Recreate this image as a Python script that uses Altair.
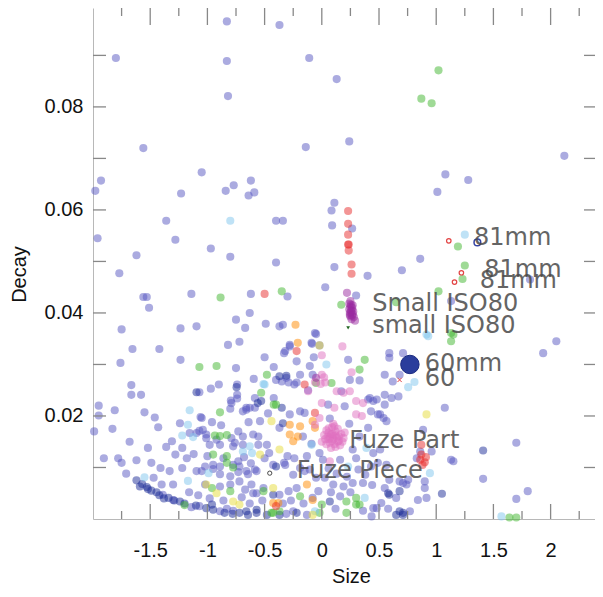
import altair as alt
import pandas as pd

# ---------------- data (Size, Decay) per colour group ----------------
lav_pts = [
    (-0.83, 0.0966), (-0.37, 0.0959), (-1.80, 0.0895), (-0.83, 0.0889), (-0.11, 0.0895), (0.13, 0.0854),
    (-0.82, 0.0821), (-1.56, 0.0720), (-0.14, 0.0722), (-1.05, 0.0673), (-1.93, 0.0657), (-1.98, 0.0637),
    (-1.23, 0.0632), (-0.77, 0.0648), (-0.84, 0.0637), (-0.62, 0.0657), (-0.64, 0.0628), (-0.59, 0.0634),
    (0.11, 0.0614), (0.085, 0.0599), (-1.36, 0.0579), (-0.40, 0.0579), (-0.34, 0.0579), (-1.96, 0.0545),
    (-1.28, 0.0542), (-0.97, 0.0525), (-1.62, 0.0512), (-1.77, 0.0477), (-1.56, 0.0431), (-1.53, 0.0431),
    (-1.51, 0.0410), (-1.14, 0.0437), (-0.62, 0.0437), (-0.30, 0.0432), (-0.80, 0.0509), (-0.40, 0.0498),
    (0.24, 0.0733), (2.12, 0.0705), (1.08, 0.0669), (1.28, 0.0658), (1.01, 0.0635), (0.09, 0.0570),
    (0.265, 0.0564), (0.11, 0.0489), (0.40, 0.0472), (0.70, 0.0483), (0.86, 0.0505), (0.03, 0.0450),
    (0.30, 0.0434), (1.82, 0.0465), (1.13, 0.0423),
    (-0.02, 0.0337), (-0.06, 0.0361), (-0.09, 0.0342), (-0.34, 0.0377), (-0.28, 0.0338), (-0.32, 0.0326),
    (0.23, 0.0309), (0.59, 0.0322), (0.71, 0.0322), (0.245, 0.0270), (0.33, 0.0269), (0.55, 0.0280),
    (0.62, 0.0267), (-0.24, 0.0261), (-0.31, 0.0274), (-0.35, 0.0267), (-0.19, 0.0280), (-0.08, 0.0280),
    (0.17, 0.0248), (-0.63, 0.0400), (-0.75, 0.0387), (-0.49, 0.0379), (-0.37, 0.0374), (-0.67, 0.0371),
    (-1.235, 0.0370), (-1.095, 0.0374), (-0.05, 0.0359), (-0.82, 0.0338), (-0.72, 0.0344), (-1.42, 0.0330),
    (-0.28, 0.0335), (-0.085, 0.0340), (-0.33, 0.0322), (-1.235, 0.0309), (-0.50, 0.0314), (-0.22, 0.0306),
    (-0.07, 0.0314), (-0.75, 0.0293), (-0.42, 0.0295), (-0.105, 0.0297), (-0.595, 0.0272), (-0.74, 0.0261),
    (-0.90, 0.0261), (-0.29, 0.0265), (-0.22, 0.0265),
    (-1.75, 0.0368), (-1.655, 0.0330), (-1.76, 0.0303), (-1.665, 0.0260), (-1.665, 0.0241), (-1.58, 0.0241),
    (-1.07, 0.0246), (-0.97, 0.0253), (-0.74, 0.0241), (-0.42, 0.0235), (-1.95, 0.0220), (-1.81, 0.0211),
    (-1.95, 0.0201), (-1.55, 0.0207), (-1.46, 0.0197), (-1.99, 0.0170), (-1.83, 0.0175), (-1.43, 0.0178),
    (-1.24, 0.0186), (-1.06, 0.0198), (-0.80, 0.0214), (-0.795, 0.0230), (-0.74, 0.0234), (-0.66, 0.0216),
    (-0.585, 0.0235), (-0.585, 0.0216), (-1.155, 0.0167), (-1.31, 0.0151), (-1.22, 0.0138), (-1.095, 0.0167),
    (-1.07, 0.0171), (-1.01, 0.0164), (-0.98, 0.0144), (-0.89, 0.0144), (-0.775, 0.0141), (-0.48, 0.0144),
    (-0.73, 0.0112), (-1.78, 0.0118), (-1.75, 0.0109), (-1.71, 0.0088), (-1.62, 0.0114), (-1.49, 0.0109),
    (-1.41, 0.0099), (-1.33, 0.0093), (-1.905, 0.0118), (-1.22, 0.0099), (-1.095, 0.0093), (-1.05, 0.0093),
    (-0.95, 0.0097), (-0.89, 0.0087), (-0.80, 0.0083), (-0.73, 0.0091), (-0.645, 0.0087), (-0.57, 0.0093),
    (-1.39, 0.0047), (-1.30, 0.0037), (-1.14, 0.0023), (-1.07, 0.0025), (-0.89, 0.0015), (-0.83, 0.0020),
    (-0.775, 0.0016), (-0.31, 0.0010), (-0.25, 0.0015), (-1.47, 0.0080), (-1.40, 0.0067), (-1.30, 0.0067),
    (-0.67, 0.0057), (-0.57, 0.0050), (-0.51, 0.0060), (-0.425, 0.0105), (-0.33, 0.0109),
    (-0.40, 0.0270), (-0.79, 0.0225), (-0.69, 0.0209), (-0.66, 0.0212), (-0.63, 0.0216), (-1.05, 0.0196),
    (-0.28, 0.0203), (-0.19, 0.0209), (-0.15, 0.0206), (-0.37, 0.0177), (-1.04, 0.0173), (-1.01, 0.0157),
    (-0.92, 0.0154), (-0.79, 0.0157), (-0.73, 0.0170), (-0.69, 0.0160), (-0.60, 0.0164), (-0.555, 0.0160),
    (-0.165, 0.0160), (-0.76, 0.0148), (-0.69, 0.0144), (-0.555, 0.0144), (-1.02, 0.0102), (-0.95, 0.0105),
    (-0.89, 0.0102), (-0.775, 0.0105), (-0.72, 0.0102), (-0.66, 0.0093), (-0.585, 0.0096), (-0.32, 0.0105),
    (-0.25, 0.0086), (-0.19, 0.0099), (-0.15, 0.0093), (-0.105, 0.0096), (-1.02, 0.0067), (-0.89, 0.0063),
    (-0.80, 0.0067), (-0.72, 0.0073), (-0.615, 0.0067), (-0.60, 0.0050), (-0.37, 0.0047), (-0.29, 0.0054),
    (-0.22, 0.0060), (-0.13, 0.0008),
    (0.055, 0.0222), (0.20, 0.0219), (0.405, 0.0232), (0.45, 0.0229), (0.43, 0.0209), (0.49, 0.0203),
    (0.54, 0.0196), (0.61, 0.0235), (0.67, 0.0238), (-0.09, 0.0146), (0.405, 0.0177), (0.565, 0.0190),
    (0.45, 0.0128), (0.51, 0.0135), (0.01, 0.0115), (0.16, 0.0115), (0.32, 0.0096), (0.43, 0.0102),
    (0.49, 0.0109), (0.565, 0.0105), (0.59, 0.0076), (0.68, 0.0073), (0.74, 0.0067), (-0.05, 0.0080),
    (0.025, 0.0080), (0.10, 0.0067), (0.19, 0.0063), (0.27, 0.0070), (0.36, 0.0070), (-0.08, 0.0041),
    (0.16, 0.0044), (0.45, 0.0021), (0.52, 0.0031), (0.77, 0.0015), (0.83, 0.0118), (0.86, 0.0131),
    (0.90, 0.0073), (0.915, 0.0041),
    (1.075, 0.0216), (0.885, 0.0173), (0.96, 0.0131), (1.13, 0.0115), (1.70, 0.0148), (1.41, 0.0078),
    (1.80, 0.0054), (1.70, 0.0039), (0.90, 0.0060), (1.15, 0.0112),
    (2.05, 0.0345), (1.935, 0.0322), (0.59, 0.0313), (0.68, 0.0280), (0.55, 0.0241), (0.55, 0.0222),
    (0.51, 0.0203), (0.42, 0.0235), (0.48, 0.0232), (0.71, 0.0070), (0.755, 0.0076), (0.84, 0.0037),
    (0.55, 0.0060), (0.65, 0.0041), (0.48, 0.0021), (0.435, 0.0005),
    (-1.18, 0.0118), (-1.12, 0.0126), (-1.00, 0.0122), (-0.86, 0.0118), (-0.68, 0.0120), (-0.62, 0.0108),
    (-0.50, 0.0118), (-0.46, 0.0128), (-0.30, 0.0122), (-0.24, 0.0118), (-0.13, 0.0122), (-0.02, 0.0128),
    (0.06, 0.0098), (0.13, 0.0088), (0.22, 0.0082), (0.30, 0.0118), (0.38, 0.0086), (0.44, 0.0066),
    (-1.16, 0.0052), (-1.08, 0.0046), (-0.98, 0.0040), (-0.86, 0.0036), (-0.70, 0.0042), (-0.63, 0.0030),
    (-0.52, 0.0036), (-0.34, 0.0030), (-0.27, 0.0036), (-0.16, 0.0030), (-0.03, 0.0054), (0.08, 0.0052),
    (0.25, 0.0052), (0.12, 0.0020), (0.36, 0.0016), (0.58, 0.0020), (-0.54, 0.0190), (-0.47, 0.0205),
    (-0.88, 0.0182), (-0.96, 0.0188), (-0.64, 0.0188), (-0.12, 0.0250), (0.07, 0.0195), (0.24, 0.0185),
    (0.33, 0.0160), (0.27, 0.0135), (-1.28, 0.0125), (-1.36, 0.0140), (-1.52, 0.0138), (-1.68, 0.0150),
]

navy_pts = [
    (-1.62, 0.0075), (-1.59, 0.0063), (-1.53, 0.0062), (-1.49, 0.0055), (-1.445, 0.0052), (-1.34, 0.0041),
    (-1.24, 0.0034), (-1.01, 0.0021), (-0.95, 0.0018), (-0.72, 0.0012), (-0.645, 0.0008), (-0.57, 0.0012),
    (-0.48, 0.0008), (-0.37, 0.0008), (-0.425, 0.0047), (-0.745, 0.0256), (-0.56, 0.0225), (-0.53, 0.0229),
    (-0.35, 0.0216), (-0.34, 0.0186), (-0.40, 0.0102), (-0.96, 0.0028), (-0.66, 0.0015), (-0.57, 0.0018),
    (-0.22, 0.0012), (0.58, 0.0050), (0.68, 0.0054), (0.07, 0.0034), (0.65, 0.0008), (0.71, 0.0012),
    (1.05, 0.0049), (0.59, 0.0047), (0.68, 0.0015), (0.71, 0.0008), (1.41, 0.0133), (-1.095, 0.0246),
    (-0.37, 0.0277), (-0.31, 0.0278), (-1.57, 0.0068), (-1.52, 0.0058), (-1.42, 0.0046),
    (-1.38, 0.0040), (-1.29, 0.0036), (-1.20, 0.0030), (-1.10, 0.0026), (-0.85, 0.0012), (-0.78, 0.0010),
]

green_pts = [
    (1.02, 0.0871), (0.87, 0.0816), (0.96, 0.0807), (-0.885, 0.0430), (-0.35, 0.0442), (1.02, 0.0442),
    (1.19, 0.0529), (1.25, 0.0492), (1.23, 0.0466), (0.17, 0.0416), (0.65, 0.0421), (1.13, 0.0361),
    (0.375, 0.0309), (0.33, 0.0290), (0.085, 0.0264), (-1.07, 0.0295), (-0.92, 0.0297), (-0.48, 0.0280),
    (-0.05, 0.0264), (-0.53, 0.0245), (-0.42, 0.0222), (-0.89, 0.0207), (-0.935, 0.0162), (-0.89, 0.0161),
    (-0.83, 0.0163), (-0.95, 0.0125), (-0.83, 0.0122), (-0.775, 0.0100), (-1.20, 0.0027), (-0.425, 0.0012),
    (-0.80, 0.0054), (-0.40, 0.0222), (-0.83, 0.0109), (-0.96, 0.0060), (-0.51, 0.0054), (-0.44, 0.0012),
    (-0.37, 0.0015), (-0.19, 0.0044), (0.00, 0.0028), (0.215, 0.0034), (0.30, 0.0028), (-0.02, 0.0012),
    (0.215, 0.0012), (1.64, 0.0003), (1.70, 0.0003), (0.33, 0.0028), (0.30, 0.0041), (1.13, 0.0345),
    (1.15, 0.0358),
]

cyan_pts = [
    (-0.80, 0.0579), (1.25, 0.0552), (0.915, 0.0358), (0.755, 0.0256), (0.81, 0.0266), (0.04, 0.0300),
    (-0.50, 0.0261), (-0.51, 0.0262), (-1.155, 0.0211), (-1.17, 0.0183), (-1.22, 0.0162), (-1.125, 0.0159),
    (-0.69, 0.0131), (-0.61, 0.0128), (-0.99, 0.0089), (-1.55, 0.0081), (-1.17, 0.0074), (-0.63, 0.0141),
    (-0.06, 0.0015), (-0.09, 0.0144), (0.39, 0.0138), (0.23, 0.0102), (0.375, 0.0041), (1.57, 0.0005),
    (0.945, 0.0089), (0.93, 0.0355),
]

yellow_pts = [
    (-1.01, 0.0067), (-0.92, 0.0050), (-0.44, 0.0190), (-0.54, 0.0125), (-0.37, 0.0135), (-0.425, 0.0060),
    (-0.775, 0.0034), (-0.72, 0.0028), (-0.08, 0.0008), (0.915, 0.0203), (-0.02, 0.0337),
]

orange_pts = [
    (-0.23, 0.0377), (-0.21, 0.0342), (-0.28, 0.0183), (-0.19, 0.0180), (-0.28, 0.0164), (-0.21, 0.0160),
    (-0.38, 0.0031), (-0.425, 0.0031), (-0.13, 0.0067), (-0.08, 0.0037), (-0.08, 0.0190), (-0.06, 0.0177),
    (-0.25, 0.0151),
]

red_pts = [
    (-0.50, 0.0437), (0.23, 0.0598), (0.23, 0.0573), (0.23, 0.0552), (0.23, 0.0533), (0.235, 0.0533),
    (0.235, 0.0521), (0.26, 0.0494), (0.26, 0.0476), (-0.22, 0.0326), (-0.15, 0.0261), (-0.06, 0.0206),
    (-0.40, 0.0025), (0.87, 0.0144), (0.87, 0.0125), (0.90, 0.0110), (0.88, 0.0105), (0.91, 0.0120),
    (0.86, 0.0115),
]

pink_pts = [
    (0.18, 0.0335), (0.00, 0.0318), (0.26, 0.0285), (-0.12, 0.0248), (-0.06, 0.0266), (0.00, 0.0280),
    (0.02, 0.0275), (0.03, 0.0265), (-0.01, 0.0262), (0.13, 0.0248), (0.19, 0.0245), (0.245, 0.0248),
    (0.00, 0.0225), (0.11, 0.0216), (0.30, 0.0229), (0.36, 0.0225), (0.30, 0.0203), (0.35, 0.0200),
    (-0.02, 0.0196), (-0.06, 0.0183), (0.07, 0.0112),
    (0.05, 0.0160), (0.08, 0.0165), (0.10, 0.0155), (0.12, 0.0170), (0.15, 0.0160), (0.07, 0.0148),
    (0.11, 0.0145), (0.04, 0.0172), (0.09, 0.0178), (0.14, 0.0150), (0.17, 0.0165), (0.06, 0.0155),
    (0.10, 0.0162), (0.13, 0.0158), (0.02, 0.0163), (0.08, 0.0138), (0.19, 0.0157), (0.10, 0.0185),
    (0.00, 0.0150), (0.16, 0.0143), (0.06, 0.0168), (0.09, 0.0152), (0.12, 0.0162), (0.04, 0.0145),
    (0.14, 0.0175), (0.11, 0.0180), (0.07, 0.0158), (0.15, 0.0152), (0.03, 0.0155), (0.09, 0.0165),
    (0.18, 0.0150), (0.12, 0.0140), (0.06, 0.0176), (0.20, 0.0168),
]

purple_pts = [
    (0.22, 0.0439), (0.24, 0.0418), (0.25, 0.0412), (0.26, 0.0405), (0.245, 0.0400), (0.27, 0.0398),
    (0.25, 0.0393), (0.26, 0.0388), (0.28, 0.0392), (0.24, 0.0407), (0.27, 0.0415), (0.25, 0.0423),
    (0.29, 0.0385), (-0.05, 0.0274), (0.255, 0.0416), (0.265, 0.0410), (0.245, 0.0396), (0.275, 0.0403),
    (0.255, 0.0402), (0.265, 0.0395),
]

# small special markers
red_ring_pts = [(1.11, 0.0540), (1.22, 0.0478), (1.16, 0.0460)]
navy_ring_pts = [(1.36, 0.0537)]
tri_pts = [(0.23, 0.0371)]
cross_pts = [(0.68, 0.0270)]
black_ring_pts = [(-0.455, 0.0089)]
big_pts = [(0.77, 0.0300)]

# labels
label_text = ["81mm", "81mm", "81mm", "Small ISO80", "small ISO80", "60mm", "60", "Fuze Part", "Fuze Piece"]
label_x = [1.33, 1.42, 1.38, 0.44, 0.44, 0.90, 0.90, 0.24, -0.22]
label_y = [0.0546, 0.0483, 0.0462, 0.0417, 0.0375, 0.0301, 0.0272, 0.0151, 0.0093]

# axis ticks
x_label_vals = [-1.5, -1, -0.5, 0, 0.5, 1, 1.5, 2]
x_major_ticks = [-1.5, -1, -0.5, 0, 0.5, 1, 1.5, 2]
x_minor_ticks = [-1.75, -1.25, -0.75, -0.25, 0.25, 0.75, 1.25, 1.75, 2.25]
y_label_vals = [0.02, 0.04, 0.06, 0.08]
y_ticks = [0.01, 0.02, 0.03, 0.04, 0.05, 0.06, 0.07, 0.08, 0.09]

group_colors = ["#5858c2", "#1c2c98", "#3fb52e", "#7fc6ee", "#e6dc3a", "#ff8a00", "#e82c2c", "#df70c0", "#9a2aa0"]
group_pts = [lav_pts, navy_pts, green_pts, cyan_pts, yellow_pts, orange_pts, red_pts, pink_pts, purple_pts]

W, H = 502, 511
X0, X1 = -2.0, 2.388
Y0, Y1 = 0.0, 0.0992
xs = alt.Scale(domain=[X0, X1], nice=False, zero=False)
ys = alt.Scale(domain=[Y0, Y1], nice=False, zero=False)


def frame(pts):
    return pd.DataFrame({"size": [p[0] for p in pts], "decay": [p[1] for p in pts]})


enc = dict(x=alt.X("size:Q", scale=xs), y=alt.Y("decay:Q", scale=ys))

X = alt.X("size:Q", scale=xs, title="Size",
          axis=alt.Axis(values=x_label_vals, labelExpr="toString(datum.value)", ticks=False,
                        grid=False, domainColor="#b8b8b8", labelFontSize=20, labelFont="Liberation Sans",
                        labelColor="#111", labelPadding=21, titleFontSize=20, titleFont="Liberation Sans",
                        titleFontWeight="normal", titleColor="#111", titleX=258, titleY=63,
                        titleBaseline="alphabetic", titleAlign="center"))
Y = alt.Y("decay:Q", scale=ys, title="Decay",
          axis=alt.Axis(values=y_label_vals, labelExpr="format(datum.value, '.2f')", ticks=False,
                        grid=False, domainColor="#b8b8b8", labelFontSize=20, labelFont="Liberation Sans",
                        labelColor="#111", labelPadding=10, titleFontSize=20, titleFont="Liberation Sans",
                        titleFontWeight="normal", titleColor="#111", titleX=-68, titleY=266, titleAngle=270,
                        titleBaseline="alphabetic", titleAlign="center"))

# one layer per colour group (fixed colour)
group_layers = []
for i, (pts, col) in enumerate(zip(group_pts, group_colors)):
    c = alt.Chart(frame(pts)).mark_circle(size=66, opacity=0.5, color=col)
    if i == 0:
        c = c.encode(x=X, y=Y)
    else:
        c = c.encode(**enc)
    group_layers.append(c)


# inward ticks drawn as stroked path symbols anchored on the frame edges
def tick_layer(xv, yv, path, length):
    d = pd.DataFrame({"size": xv, "decay": yv})
    return alt.Chart(d).mark_point(shape=path, filled=False, color="#888888", strokeWidth=1.3,
                                   size=4 * length * length, opacity=1).encode(**enc)


ticks = [
    tick_layer(x_major_ticks, [Y0] * len(x_major_ticks), "M0,0L0,-1", 15),
    tick_layer(x_minor_ticks, [Y0] * len(x_minor_ticks), "M0,0L0,-1", 8),
    tick_layer(x_major_ticks, [Y1] * len(x_major_ticks), "M0,0L0,1", 17),
    tick_layer(x_minor_ticks, [Y1] * len(x_minor_ticks), "M0,0L0,1", 8),
    tick_layer([X0] * len(y_ticks), y_ticks, "M0,0L1,0", 13),
    tick_layer([X1] * len(y_ticks), y_ticks, "M0,0L-1,0", 11),
]

red_rings = alt.Chart(frame(red_ring_pts)).mark_point(shape="circle", filled=False, color="#e03030",
                                                       size=20, strokeWidth=1.2, opacity=0.9).encode(**enc)
navy_rings = alt.Chart(frame(navy_ring_pts)).mark_point(shape="circle", filled=False, color="#1f2f99",
                                                         size=45, strokeWidth=1.5, opacity=0.9).encode(**enc)
tri = alt.Chart(frame(tri_pts)).mark_point(shape="triangle-down", filled=True, color="#226622",
                                           size=14, opacity=1).encode(**enc)
cross = alt.Chart(frame(cross_pts)).mark_point(shape="M-1,-1L1,1M-1,1L1,-1", filled=False, color="#e03030",
                                               size=18, strokeWidth=1, opacity=0.9).encode(**enc)
black_rings = alt.Chart(frame(black_ring_pts)).mark_point(shape="circle", filled=False, color="#333",
                                                           size=18, strokeWidth=1, opacity=0.9).encode(**enc)
big = alt.Chart(frame(big_pts)).mark_circle(size=340, color="#2a3d9c", opacity=1, stroke="#1a2a80",
                                            strokeWidth=1).encode(**enc)

labels = alt.Chart(pd.DataFrame({"size": label_x, "decay": label_y, "t": label_text})).mark_text(
    align="left", baseline="middle", font="DejaVu Sans", fontSize=24, color="#4a4a4a", opacity=0.85
).encode(x=alt.X("size:Q", scale=xs), y=alt.Y("decay:Q", scale=ys), text="t:N")

chart = alt.layer(*group_layers, *ticks, red_rings, navy_rings, tri, cross, black_rings, big,
                  labels).properties(
    width=W, height=H,
    autosize=alt.AutoSizeParams(type="none"),
    padding={"left": 85, "top": 0, "right": 0, "bottom": 70},
).configure_view(stroke=None)

chart.save("out.html", embed_options={"renderer": "svg", "actions": False})
